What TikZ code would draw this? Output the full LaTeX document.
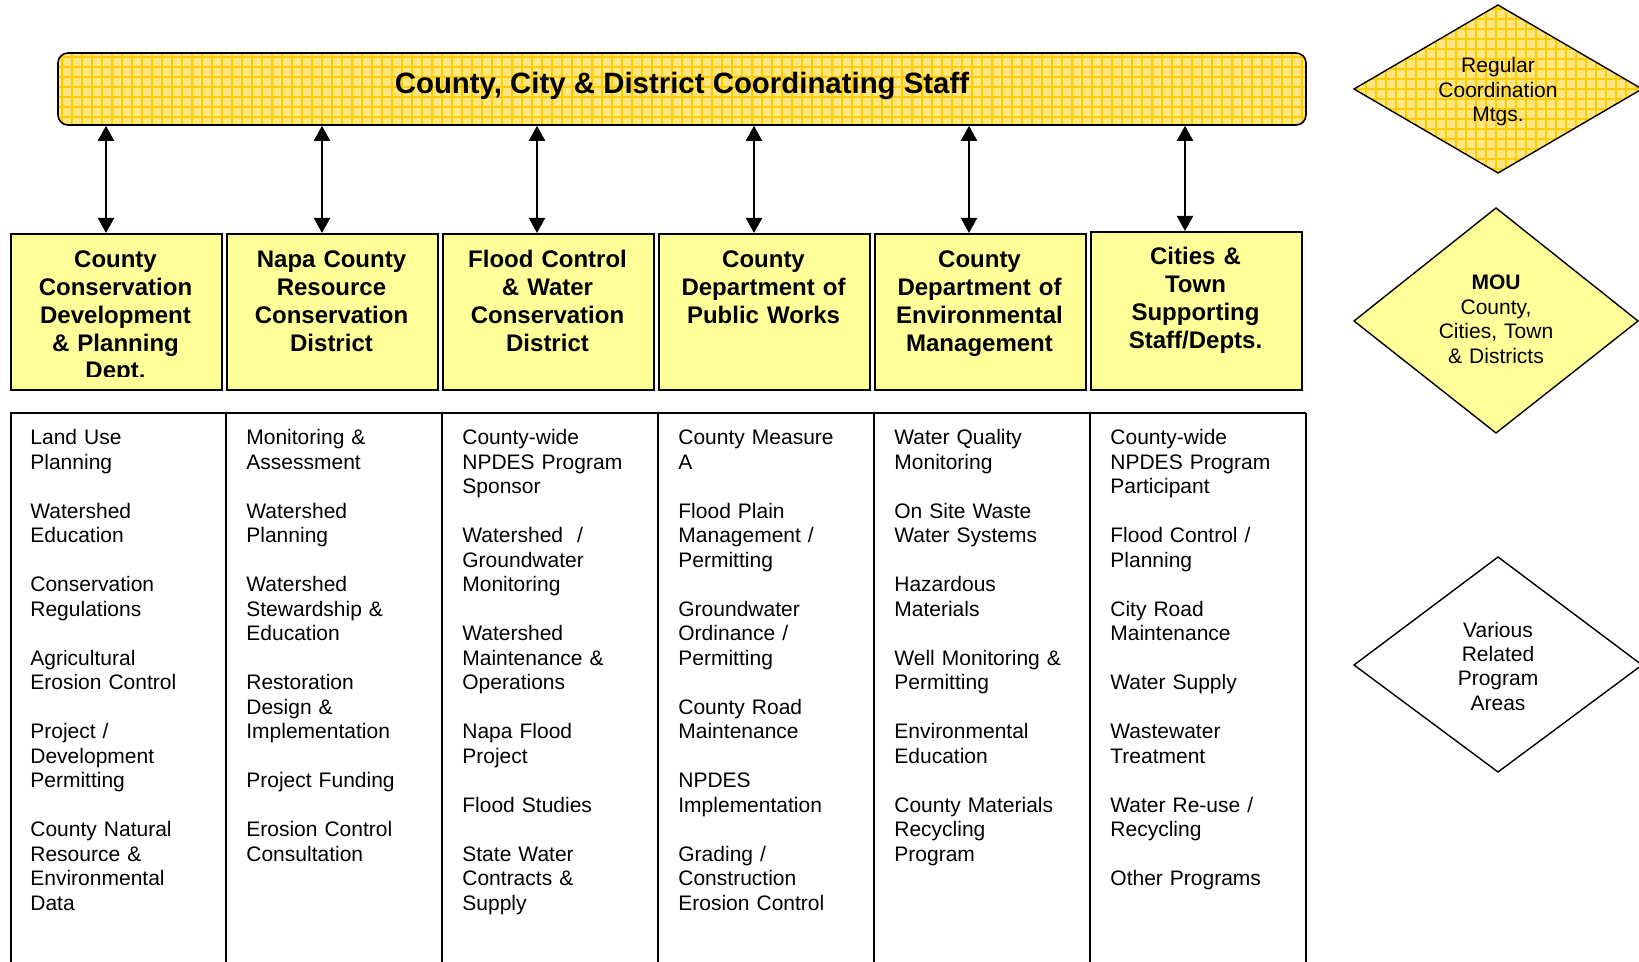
\documentclass[tikz,border=0pt]{standalone}
\usepackage{fontspec}
\setmainfont{Liberation Sans}
\usetikzlibrary{arrows.meta}
\definecolor{hdrfill}{HTML}{FFFF99}
\definecolor{patbg}{HTML}{FFE680}
\definecolor{patline}{HTML}{FFCC00}
\begin{document}
\begin{tikzpicture}[x=0.5pt,y=-0.5pt,
  hdrbox/.style={draw=black, line width=0.8pt, fill=hdrfill, minimum width=105.5pt, minimum height=78pt, inner sep=0pt, anchor=north west},
  hdrtext/.style={font=\fontsize{12pt}{13.85pt}\selectfont\bfseries, align=center, text width=102pt, inner sep=0pt, anchor=base},
  cell/.style={font=\fontsize{10.5pt}{12.25pt}\selectfont, align=left, text width=100pt, inner sep=0pt, anchor=base west},
  dtext/.style={font=\fontsize{10.5pt}{12.25pt}\selectfont, align=center, text width=70pt, inner sep=0pt, anchor=base},
  link/.style={line width=1pt, {Triangle[width=8pt,length=7.5pt]}-{Triangle[width=8pt,length=7.5pt]}},
  tline/.style={line width=1pt},
  dline/.style={line width=0.7pt, line join=miter},
  pat/.style={patline, line width=0.7pt}
]
\useasboundingbox (0,0) rectangle (1639,962);
\fill[white] (0,0) rectangle (1639,962);

% banner
\begin{scope}
  \clip[rounded corners=5pt] (58,53) rectangle (1306,125);
  \fill[patbg] (58,53) rectangle (1306,125);
  \foreach \gx in {62,72,...,1302} \draw[pat] (\gx,53) -- (\gx,125);
  \foreach \gy in {57,67,...,122} \draw[pat] (58,\gy) -- (1306,\gy);
\end{scope}
\node[draw=black, line width=0.8pt, rounded corners=5pt, minimum width=624pt, minimum height=36pt, inner sep=0pt] (banner) at (682,89) {};
\node[font=\fontsize{14.7pt}{16pt}\selectfont\bfseries, anchor=base, inner sep=0pt] (bantitle) at (682,94) {County, City \& District Coordinating Staff};

% header boxes
\node[hdrbox] (b1) at (10,233) {};
\node[hdrbox] (b2) at (226,233) {};
\node[hdrbox] (b3) at (442,233) {};
\node[hdrbox] (b4) at (658,233) {};
\node[hdrbox] (b5) at (874,233) {};
\node[hdrbox, minimum height=79pt] (b6) at (1090,231) {};

\begin{scope}
  \clip (10,233) rectangle (221,377);
  \node[hdrtext] (t1) at (115.5,268) {County\\Conservation\\Development\\\& Planning\\Dept.};
\end{scope}
\node[hdrtext] (t2) at (331.5,268) {Napa County\\Resource\\Conservation\\District};
\node[hdrtext] (t3) at (547.5,268) {Flood Control\\\& Water\\Conservation\\District};
\node[hdrtext] (t4) at (763.5,268) {County\\Department of\\Public Works};
\node[hdrtext] (t5) at (979.5,268) {County\\Department of\\Environmental\\Management};
\node[hdrtext] (t6) at (1195.5,265) {Cities \&\\Town\\Supporting\\Staff/Depts.};

% arrows
\foreach \i/\ax in {1/106,2/322,3/537,4/754,5/969,6/1185}{
  \coordinate (a\i) at (\ax,0);
  \draw[link] (banner.south -| a\i) -- (b\i.north -| a\i);
}

% table
\draw[tline] (10,413) -- (1306,413);
\foreach \lx in {10.5,226,442,657.5,874,1090,1306}
  \draw[tline] (\lx,413) -- (\lx,970);

\node[cell] (c1) at (30,445) {Land Use\\Planning\\[12.25pt]Watershed\\Education\\[12.25pt]Conservation\\Regulations\\[12.25pt]Agricultural\\Erosion Control\\[12.25pt]Project /\\Development\\Permitting\\[12.25pt]County Natural\\Resource \&\\Environmental\\Data};
\node[cell] (c2) at (246,445) {Monitoring \&\\Assessment\\[12.25pt]Watershed\\Planning\\[12.25pt]Watershed\\Stewardship \&\\Education\\[12.25pt]Restoration\\Design \&\\Implementation\\[12.25pt]Project Funding\\[12.25pt]Erosion Control\\Consultation};
\node[cell] (c3) at (462,445) {County-wide\\NPDES Program\\Sponsor\\[12.25pt]Watershed\ \ /\\Groundwater\\Monitoring\\[12.25pt]Watershed\\Maintenance \&\\Operations\\[12.25pt]Napa Flood\\Project\\[12.25pt]Flood Studies\\[12.25pt]State Water\\Contracts \&\\Supply};
\node[cell] (c4) at (678,445) {County Measure\\A\\[12.25pt]Flood Plain\\Management /\\Permitting\\[12.25pt]Groundwater\\Ordinance /\\Permitting\\[12.25pt]County Road\\Maintenance\\[12.25pt]NPDES\\Implementation\\[12.25pt]Grading /\\Construction\\Erosion Control};
\node[cell] (c5) at (894,445) {Water Quality\\Monitoring\\[12.25pt]On Site Waste\\Water Systems\\[12.25pt]Hazardous\\Materials\\[12.25pt]Well Monitoring \&\\Permitting\\[12.25pt]Environmental\\Education\\[12.25pt]County Materials\\Recycling\\Program};
\node[cell] (c6) at (1110,445) {County-wide\\NPDES Program\\Participant\\[12.25pt]Flood Control /\\Planning\\[12.25pt]City Road\\Maintenance\\[12.25pt]Water Supply\\[12.25pt]Wastewater\\Treatment\\[12.25pt]Water Re-use /\\Recycling\\[12.25pt]Other Programs};

% diamonds
\begin{scope}
  \clip (1498,5) -- (1642,89) -- (1498,173) -- (1354,89) -- cycle;
  \fill[patbg] (1354,5) rectangle (1642,173);
  \foreach \gx in {1356,1366,...,1640} \draw[pat] (\gx,5) -- (\gx,173);
  \foreach \gy in {9,19,...,170} \draw[pat] (1354,\gy) -- (1642,\gy);
\end{scope}
\draw[dline] (1498,5) -- (1642,89) -- (1498,173) -- (1354,89) -- cycle;
\node[dtext] (d1) at (1498,73) {Regular\\Coordination\\Mtgs.};

\draw[dline, fill=hdrfill] (1496,208) -- (1638,321) -- (1496,433) -- (1354,321) -- cycle;
\node[dtext] (d2) at (1496,290) {\textbf{MOU}\\County,\\Cities, Town\\\& Districts};

\draw[dline] (1498,557) -- (1642,665) -- (1498,772) -- (1354,665) -- cycle;
\node[dtext] (d3) at (1498,637) {Various\\Related\\Program\\Areas};
\end{tikzpicture}
\end{document}
